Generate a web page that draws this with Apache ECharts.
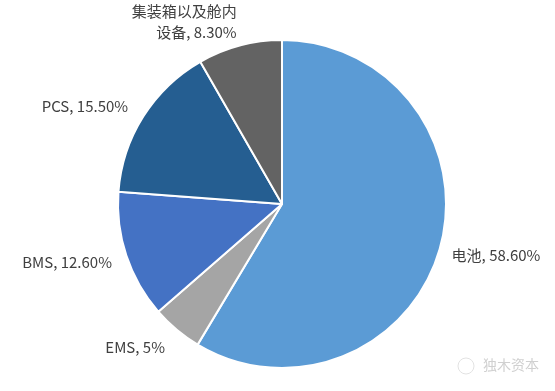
<!DOCTYPE html>
<html><head><meta charset="utf-8">
<script src="https://cdn.jsdelivr.net/npm/echarts@6/dist/echarts.min.js"></script>
<style>html,body{margin:0;padding:0;background:#fff}#c{width:555px;height:391px}</style>
</head><body><div id="c"></div>
<script>
const categories = ['电池', 'EMS', 'BMS', 'PCS', '集装箱以及舱内\n设备'];
const values = [58.6, 5, 12.6, 15.5, 8.3];
const valueLabels = ['58.60%', '5%', '12.60%', '15.50%', '8.30%'];
const colors = ['#5B9BD5', '#A5A5A5', '#4472C4', '#255E91', '#636363'];
const labelShift = [[-9, 4], [5, 8], [6, 3], [4, -4], [9, -12]];

const chart = echarts.init(document.getElementById('c'));
const data = categories.map((c, i) => ({
  name: c, value: values[i],
  itemStyle: { color: colors[i] },
  label: i === 4 ? { align: 'center' } : {}
}));
chart.setOption({
  animation: false,
  series: [{
    type: 'pie',
    center: [282, 204],
    radius: [0, 164],
    startAngle: 90,
    clockwise: true,
    data: data,
    itemStyle: { borderColor: '#fff', borderWidth: 2 },
    label: {
      show: true,
      position: 'outside',
      overflow: 'none',
      fontFamily: '"Noto Sans CJK SC", "Noto Sans", sans-serif',
      fontSize: 15,
      color: '#404040',
      lineHeight: 21,
      formatter: p => p.name + ', ' + valueLabels[p.dataIndex]
    },
    labelLine: { show: false, length: 12, length2: 4 },
    labelLayout: p => ({ dx: labelShift[p.dataIndex][0], dy: labelShift[p.dataIndex][1] })
  }],
  graphic: [
    { type: 'circle', shape: { cx: 466, cy: 366, r: 8 }, style: { fill: 'none', stroke: '#e2e2e2', lineWidth: 1 } },
    { type: 'text', left: 483, top: 358, style: { text: '独木资本', fill: '#d0d0d0', font: '14px "Noto Sans CJK SC"' } }
  ]
});
</script></body></html>
